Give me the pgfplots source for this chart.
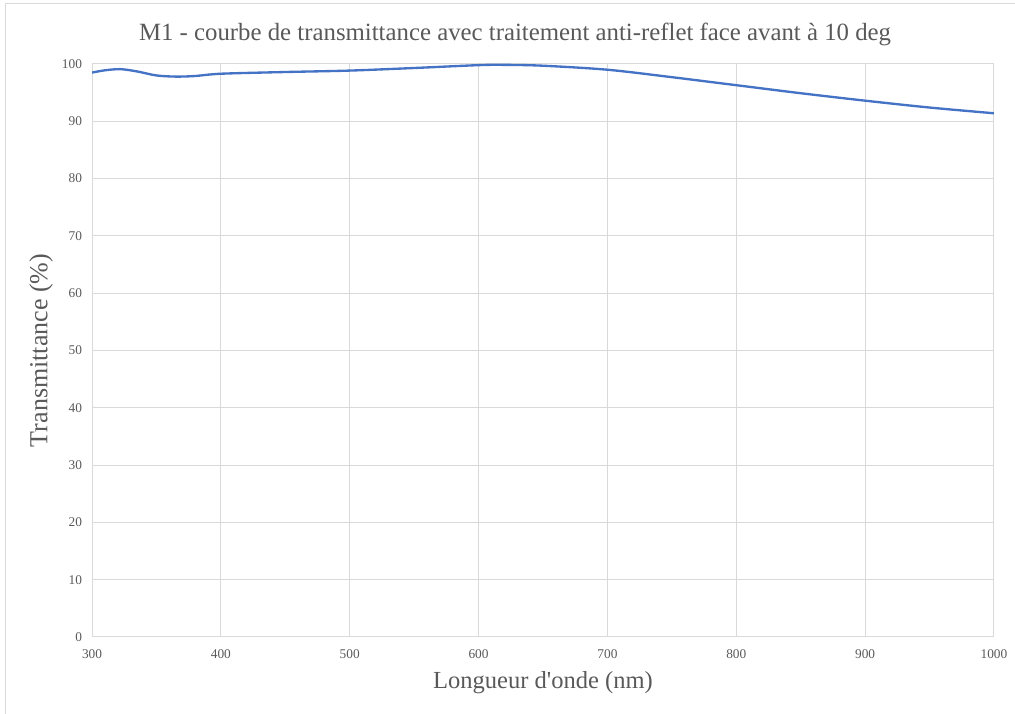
\documentclass[border=0pt]{standalone}
\usepackage{pgfplots}
\pgfplotsset{compat=1.18}
\usepackage{fontspec}
\setmainfont{Liberation Serif}
\definecolor{gridc}{RGB}{217,217,217}
\definecolor{tickc}{RGB}{89,89,89}
\definecolor{linec}{RGB}{68,114,196}
\begin{document}
\begin{tikzpicture}
\useasboundingbox (0,0) rectangle (761.25pt,535.5pt);
\draw[gridc,line width=0.75pt] (4.1pt,0pt) -- (4.1pt,533pt) -- (761.25pt,533pt);
\begin{axis}[
  at={(69pt,57.75pt)}, anchor=south west,
  scale only axis, width=676.5pt, height=429.75pt,
  xmin=300, xmax=1000, ymin=0, ymax=100,
  xtick={300,400,...,1000}, ytick={0,10,...,100},
  grid=major, major grid style={gridc, line width=0.75pt},
  axis line style={gridc, line width=0.75pt},
  major tick length=0pt,
  tick label style={font=\fontsize{10}{12}\selectfont, text=tickc},
  /pgf/number format/assume math mode=true,
  /pgf/number format/1000 sep={},
  xticklabel style={yshift=-6pt},
  yticklabel style={xshift=-4pt},
  xlabel={Longueur d\textquotesingle onde (nm)},
  ylabel={Transmittance (\%)},
  xlabel style={font=\fontsize{18.4}{22}\selectfont, text=tickc, yshift=-3pt},
  ylabel style={font=\fontsize{19.5}{23}\selectfont, text=tickc, yshift=0pt},
  title={M1 - courbe de transmittance avec traitement anti-reflet face avant à 10 deg},
  title style={font=\fontsize{18.6}{22}\selectfont, text=tickc, yshift=4pt, xshift=-21pt},
]
\addplot[linec, line width=1.75pt, smooth] coordinates {
(300,98.5) (310,98.9) (322,99.1) (335,98.7) (350,98.0) (365,97.8) (380,97.9) (400,98.3)
(450,98.6) (500,98.85) (550,99.3) (600,99.8) (620,99.85) (650,99.7) (700,99.0)
(750,97.7) (800,96.3) (850,94.9) (900,93.6) (950,92.4) (1000,91.4)
};
\end{axis}
\end{tikzpicture}
\end{document}
